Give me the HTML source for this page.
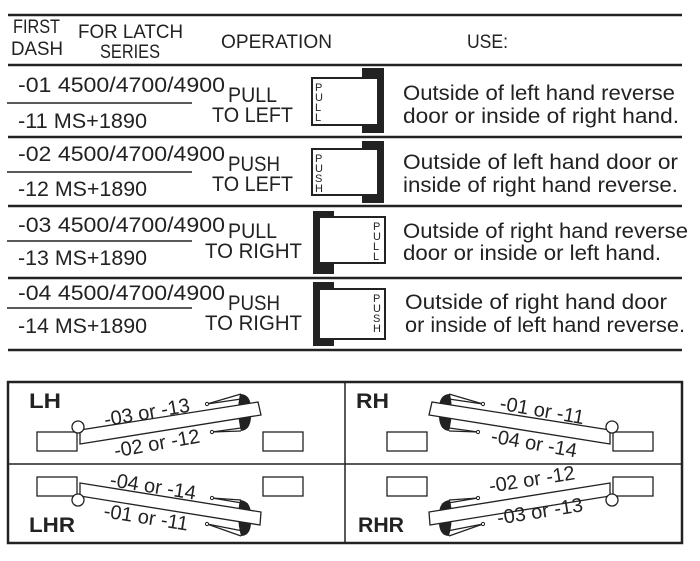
<!DOCTYPE html>
<html><head><meta charset="utf-8"><style>
html,body{margin:0;padding:0;background:#fff;}
svg{display:block;}
text{font-family:"Liberation Sans",sans-serif;fill:#222;}
</style></head><body>
<svg width="700" height="561" viewBox="0 0 700 561" xmlns="http://www.w3.org/2000/svg">
<g stroke="#222" stroke-width="2.5">
<line x1="8" y1="15" x2="682" y2="15"/>
<line x1="8" y1="65" x2="682" y2="65"/>
<line x1="8" y1="137" x2="682" y2="137"/>
<line x1="8" y1="206" x2="682" y2="206"/>
<line x1="8" y1="278" x2="682" y2="278"/>
<line x1="8" y1="350" x2="682" y2="350"/>
</g>
<g stroke="#222" stroke-width="1.5">
<line x1="7" y1="103" x2="192" y2="103"/>
<line x1="7" y1="172" x2="192" y2="172"/>
<line x1="7" y1="241" x2="192" y2="241"/>
<line x1="7" y1="308" x2="192" y2="308"/>
</g>
<g font-size="19">
<text x="13" y="33" textLength="47" lengthAdjust="spacingAndGlyphs">FIRST</text>
<text x="11" y="55" textLength="52" lengthAdjust="spacingAndGlyphs">DASH</text>
<text x="78" y="38" textLength="105" lengthAdjust="spacingAndGlyphs">FOR LATCH</text>
<text x="100" y="58" textLength="60" lengthAdjust="spacingAndGlyphs">SERIES</text>
<text x="221" y="48" textLength="111" lengthAdjust="spacingAndGlyphs">OPERATION</text>
<text x="467" y="48" textLength="41" lengthAdjust="spacingAndGlyphs">USE:</text>
</g>
<g font-size="21">
<text x="18" y="92" textLength="207" lengthAdjust="spacingAndGlyphs">-01 4500/4700/4900</text>
<text x="18" y="128" textLength="129" lengthAdjust="spacingAndGlyphs">-11 MS+1890</text>
<text x="228" y="102" textLength="49" lengthAdjust="spacingAndGlyphs">PULL</text>
<text x="212" y="122" textLength="81" lengthAdjust="spacingAndGlyphs">TO LEFT</text>
<text x="18" y="161" textLength="207" lengthAdjust="spacingAndGlyphs">-02 4500/4700/4900</text>
<text x="18" y="196" textLength="129" lengthAdjust="spacingAndGlyphs">-12 MS+1890</text>
<text x="228" y="171" textLength="52" lengthAdjust="spacingAndGlyphs">PUSH</text>
<text x="212" y="191" textLength="81" lengthAdjust="spacingAndGlyphs">TO LEFT</text>
<text x="18" y="232" textLength="207" lengthAdjust="spacingAndGlyphs">-03 4500/4700/4900</text>
<text x="18" y="265" textLength="129" lengthAdjust="spacingAndGlyphs">-13 MS+1890</text>
<text x="228" y="238" textLength="49" lengthAdjust="spacingAndGlyphs">PULL</text>
<text x="205" y="258" textLength="97" lengthAdjust="spacingAndGlyphs">TO RIGHT</text>
<text x="18" y="300" textLength="207" lengthAdjust="spacingAndGlyphs">-04 4500/4700/4900</text>
<text x="18" y="333" textLength="129" lengthAdjust="spacingAndGlyphs">-14 MS+1890</text>
<text x="228" y="310" textLength="52" lengthAdjust="spacingAndGlyphs">PUSH</text>
<text x="205" y="330" textLength="97" lengthAdjust="spacingAndGlyphs">TO RIGHT</text>
<text x="403" y="100" textLength="272" lengthAdjust="spacingAndGlyphs">Outside of left hand reverse</text>
<text x="403" y="123" textLength="276" lengthAdjust="spacingAndGlyphs">door or inside of right hand.</text>
<text x="403" y="169" textLength="275" lengthAdjust="spacingAndGlyphs">Outside of left hand door or</text>
<text x="403" y="192" textLength="275" lengthAdjust="spacingAndGlyphs">inside of right hand reverse.</text>
<text x="403" y="238" textLength="285" lengthAdjust="spacingAndGlyphs">Outside of right hand reverse</text>
<text x="403" y="260" textLength="258" lengthAdjust="spacingAndGlyphs">door or inside or left hand.</text>
<text x="405" y="309" textLength="262" lengthAdjust="spacingAndGlyphs">Outside of right hand door</text>
<text x="405" y="332" textLength="280" lengthAdjust="spacingAndGlyphs">or inside of left hand reverse.</text>
</g>
<!-- door icons -->
<rect x="362" y="68" width="22" height="65" fill="#222"/>
<rect x="312" y="78" width="66" height="47" fill="#fff" stroke="#222" stroke-width="2"/>
<g font-size="11"><text x="315" y="91">P</text><text x="315" y="101">U</text><text x="315" y="111">L</text><text x="315" y="121">L</text></g>
<rect x="362" y="141" width="22" height="62" fill="#222"/>
<rect x="312" y="149" width="66" height="46" fill="#fff" stroke="#222" stroke-width="2"/>
<g font-size="11"><text x="315" y="162">P</text><text x="315" y="172">U</text><text x="315" y="182">S</text><text x="315" y="192">H</text></g>
<rect x="313" y="211" width="21" height="63" fill="#222"/>
<rect x="319" y="217" width="66" height="46" fill="#fff" stroke="#222" stroke-width="2"/>
<g font-size="11"><text x="373" y="230">P</text><text x="373" y="240">U</text><text x="373" y="250">L</text><text x="373" y="260">L</text></g>
<rect x="313" y="282" width="21" height="64" fill="#222"/>
<rect x="319" y="289" width="66" height="50" fill="#fff" stroke="#222" stroke-width="2"/>
<g font-size="11"><text x="373" y="302">P</text><text x="373" y="312">U</text><text x="373" y="322">S</text><text x="373" y="332">H</text></g>
<!-- bottom box -->
<rect x="8" y="382" width="674" height="161" fill="none" stroke="#222" stroke-width="2.5"/>
<line x1="345" y1="382" x2="345" y2="543" stroke="#222" stroke-width="1.5"/>
<line x1="8" y1="464" x2="682" y2="464" stroke="#222" stroke-width="1.5"/>
<defs>
<g id="lh">
<rect x="37" y="432" width="40" height="19" fill="#fff" stroke="#222" stroke-width="1.3"/>
<rect x="263" y="432" width="40" height="19" fill="#fff" stroke="#222" stroke-width="1.3"/>
<path d="M240 394 Q252 394 251 412 Q252 430 241 431 Q236 412 240 394Z" fill="#222"/>
<g stroke="#222" stroke-width="1.2" fill="none">
<line x1="241" y1="394" x2="207" y2="404"/><line x1="248" y1="398" x2="207" y2="404"/>
<line x1="241" y1="431" x2="212" y2="432"/><line x1="248" y1="427" x2="212" y2="432"/>
</g>
<circle cx="207" cy="404" r="1.6" fill="#fff" stroke="#222"/>
<circle cx="212" cy="432" r="1.6" fill="#fff" stroke="#222"/>
<polygon points="80,430 258,402 261,415 80,444" fill="#fff" stroke="#222" stroke-width="1.3"/>
<circle cx="78" cy="427" r="6" fill="#fff" stroke="#222" stroke-width="1.3"/>
</g>
<g id="lhr">
<rect x="37" y="477" width="40" height="19" fill="#fff" stroke="#222" stroke-width="1.3"/>
<rect x="263" y="477" width="40" height="19" fill="#fff" stroke="#222" stroke-width="1.3"/>
<path d="M240 500 Q252 501 251 518 Q252 536 241 536 Q236 518 240 500Z" fill="#222"/>
<g stroke="#222" stroke-width="1.2" fill="none">
<line x1="241" y1="500" x2="212" y2="498"/><line x1="248" y1="504" x2="212" y2="498"/>
<line x1="241" y1="536" x2="207" y2="524"/><line x1="248" y1="532" x2="207" y2="524"/>
</g>
<circle cx="212" cy="498" r="1.6" fill="#fff" stroke="#222"/>
<circle cx="207" cy="524" r="1.6" fill="#fff" stroke="#222"/>
<polygon points="80,483 261,512 260,525 80,496" fill="#fff" stroke="#222" stroke-width="1.3"/>
<circle cx="78" cy="500" r="6" fill="#fff" stroke="#222" stroke-width="1.3"/>
</g>
</defs>
<use href="#lh"/>
<use href="#lhr"/>
<use href="#lh" transform="translate(690,0) scale(-1,1)"/>
<use href="#lhr" transform="translate(690,0) scale(-1,1)"/>
<g font-size="21" font-weight="bold">
<text x="29" y="408" textLength="32" lengthAdjust="spacingAndGlyphs">LH</text>
<text x="29" y="532" textLength="46" lengthAdjust="spacingAndGlyphs">LHR</text>
<text x="356" y="408" textLength="33" lengthAdjust="spacingAndGlyphs">RH</text>
<text x="358" y="532" textLength="46" lengthAdjust="spacingAndGlyphs">RHR</text>
</g>
<g font-size="20" text-anchor="middle">
<g transform="translate(147,413) rotate(-10)"><text x="0" y="6">-03 or -13</text></g>
<g transform="translate(157,444) rotate(-10)"><text x="0" y="6">-02 or -12</text></g>
<g transform="translate(153,487) rotate(9)"><text x="0" y="6">-04 or -14</text></g>
<g transform="translate(146,518) rotate(9)"><text x="0" y="6">-01 or -11</text></g>
<g transform="translate(542,411) rotate(10)"><text x="0" y="6">-01 or -11</text></g>
<g transform="translate(534,444) rotate(10)"><text x="0" y="6">-04 or -14</text></g>
<g transform="translate(532,480) rotate(-9)"><text x="0" y="6">-02 or -12</text></g>
<g transform="translate(540,512) rotate(-9)"><text x="0" y="6">-03 or -13</text></g>
</g>
</svg>
</body></html>
